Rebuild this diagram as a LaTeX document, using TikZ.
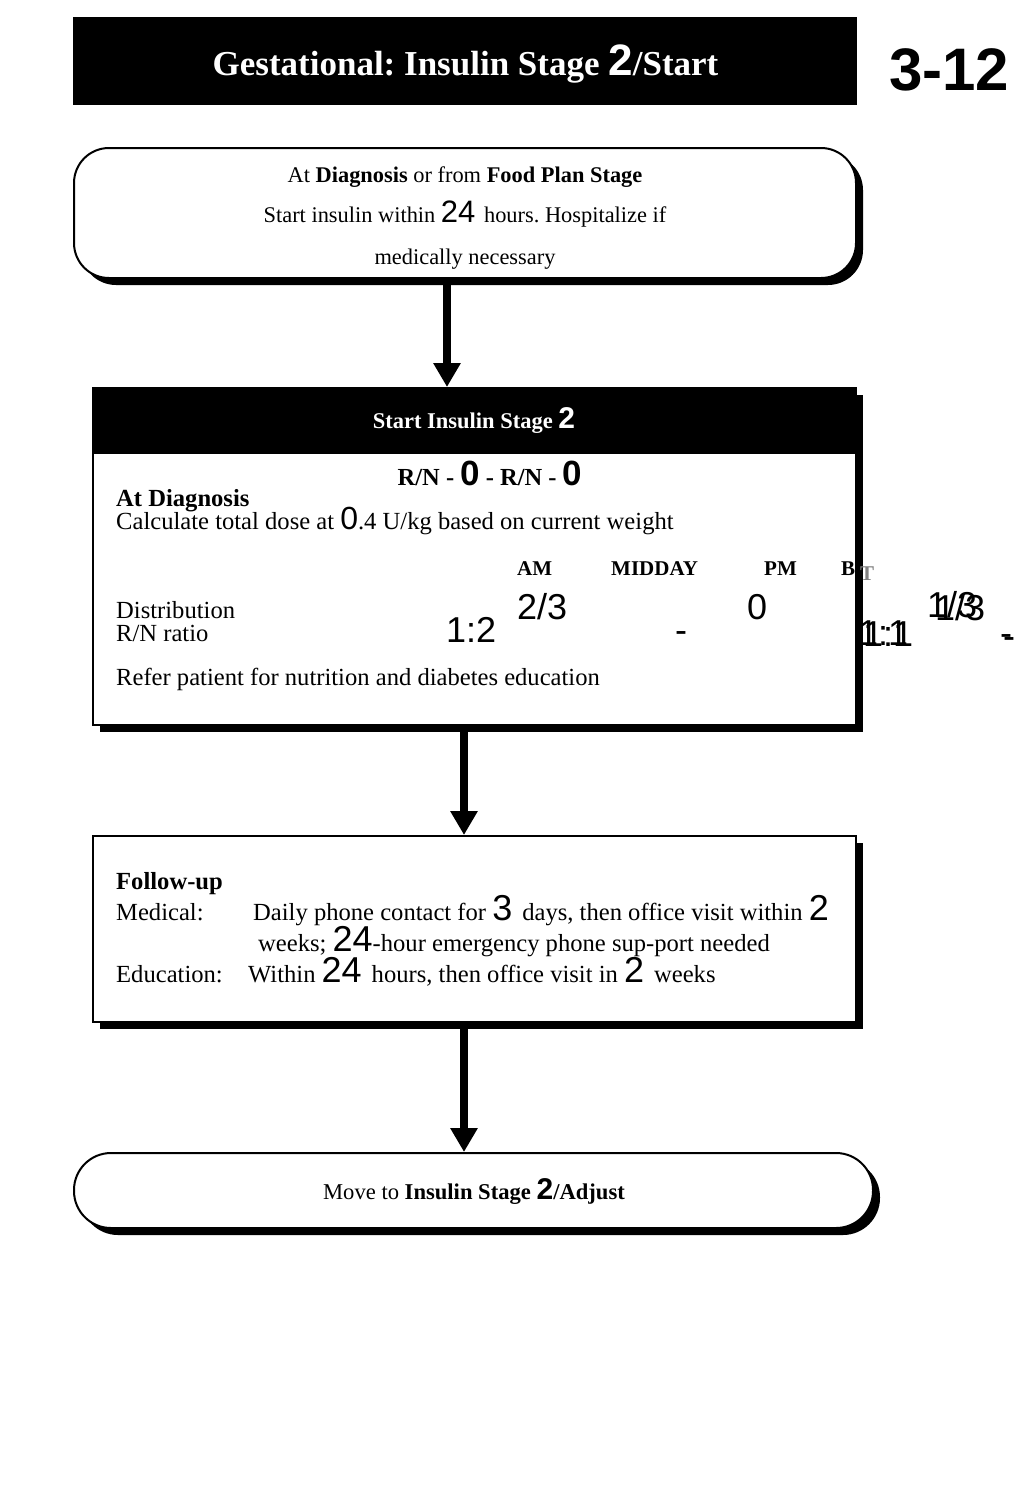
\documentclass[tikz,border=0pt]{standalone}
\usepackage{fontspec}
\setmainfont{Liberation Serif}
\setsansfont{Liberation Sans}
\usetikzlibrary{arrows.meta,shadows}
\frenchspacing
\newcommand\fsz[1]{\fontsize{#1}{#1}\selectfont}
\newcommand\nb[2]{{\sffamily\fsz{#1}#2}}
\tikzset{
  box/.style={draw, line width=2pt, fill=white, inner sep=0pt,
    drop shadow={shadow xshift=7pt, shadow yshift=-7pt, fill=black, opacity=1}},
  txt/.style={inner sep=0pt, anchor=base west, font=\fsz{24.6}},
  ctxt/.style={txt, anchor=base},
  hdtxt/.style={txt, font=\bfseries\fsz{21}},
  tnum/.style={txt, font=\sffamily\fsz{36}},
  flow/.style={line width=8pt, -{Triangle[width=26pt,length=24pt]}}
}
\begin{document}
\begin{tikzpicture}[x=1pt, y=-1pt]
  \useasboundingbox[fill=white] (0,0) rectangle (1023,1488);
  \node[fill=black, inner sep=0pt, minimum width=784pt, minimum height=88pt] (title) at (465,61) {};
  \node[ctxt, white, font=\bfseries\fsz{35}] (ttl) at (465.5,75) {Gestational: Insulin Stage \nb{44}{2}/Start};
  \node[txt, font=\sffamily\bfseries\fsz{60}] (page) at (889,90) {3-12};

  \node[box, rounded corners=35pt, minimum width=782pt, minimum height=130pt] (box1) at (465,213) {};
  \node[ctxt, font=\fsz{22.4}] (l1) at (465,182) {At \textbf{Diagnosis} or from \textbf{Food Plan Stage}};
  \node[ctxt, font=\fsz{22.4}] (l2) at (465,222) {Start insulin within \nb{31}{24 }hours. Hospitalize if};
  \node[ctxt, font=\fsz{22.4}] (l3) at (465,264) {medically necessary};

  \node[box, minimum width=763pt, minimum height=337pt] (box2) at (474.5,556.5) {};
  \node[fill=black, inner sep=0pt, minimum width=763pt, minimum height=66pt] (band) at (474.5,421) {};
  \node[ctxt, white, font=\bfseries\fsz{22.5}] (hd) at (474,428) {Start Insulin Stage \nb{30}{2}};
  \node[ctxt, font=\bfseries\fsz{24.5}] (rn) at (490,485) {R/N - \nb{35}{0} - R/N - \nb{35}{0}};
  \node[txt, font=\bfseries\fsz{24.6}] (dg) at (116,506) {At Diagnosis};
  \node[txt] (calc) at (116,529) {Calculate total dose at \nb{32}{0}.4 U/kg based on current weight};
  \foreach \t/\x in {AM/517, MIDDAY/611, PM/764, B/841}
    \node[hdtxt] (h\t) at (\x,575) {\t};
  \node[hdtxt, gray] (hT) at (860,580) {T};
  \node[txt] (dist) at (116,618) {Distribution};
  \node[txt] (ratio) at (116,641) {R/N ratio};
  \node[tnum] (dam) at (517,619) {2/3};
  \node[tnum] (dpm) at (747,619) {0};
  \node[tnum] (dbt) at (927,617) {1/3};
  \node[tnum] (dbt2) at (935,620) {1/3};
  \node[tnum] (ram) at (446,642) {1:2};
  \node[tnum] (rmd) at (675,642) {-};
  \node[tnum] (rpm) at (858,645) {1:1};
  \node[tnum] (rpm2) at (863,646) {1:1};
  \node[tnum] (rbt) at (1000,645) {-};
  \node[tnum] (rbt2) at (1003,648) {-};
  \node[txt] (refer) at (116,685) {Refer patient for nutrition and diabetes education};

  \node[box, minimum width=763pt, minimum height=186pt] (box3) at (474.5,929) {};
  \node[txt, font=\bfseries\fsz{24.6}] (fu) at (116,889) {Follow-up};
  \node[txt] (med) at (116,920) {Medical:};
  \node[txt] (med1) at (253,920) {Daily phone contact for \nb{36}{3 }days, then office visit within \nb{36}{2}};
  \node[txt] (med2) at (258,951) {weeks; \nb{36}{24}-hour emergency phone sup-port needed};
  \node[txt] (edu) at (116,982) {Education:};
  \node[txt] (edu1) at (248,982) {Within \nb{36}{24 }hours, then office visit in \nb{36}{2 }weeks};

  \node[box, rounded corners=37pt, minimum width=799pt, minimum height=75pt] (box4) at (473.5,1190.5) {};
  \node[ctxt, font=\fsz{22.6}] (mv) at (474,1199) {Move to \textbf{Insulin Stage \nb{30}{2}/Adjust}};

  \draw[flow] ([xshift=-18pt]box1.south) -- ([xshift=-27.5pt]box2.north);
  \draw[flow] ([xshift=-10.5pt]box2.south) -- ([xshift=-10.5pt]box3.north);
  \draw[flow] ([xshift=-10.5pt]box3.south) -- ([xshift=-9.5pt]box4.north);
\end{tikzpicture}
\end{document}
